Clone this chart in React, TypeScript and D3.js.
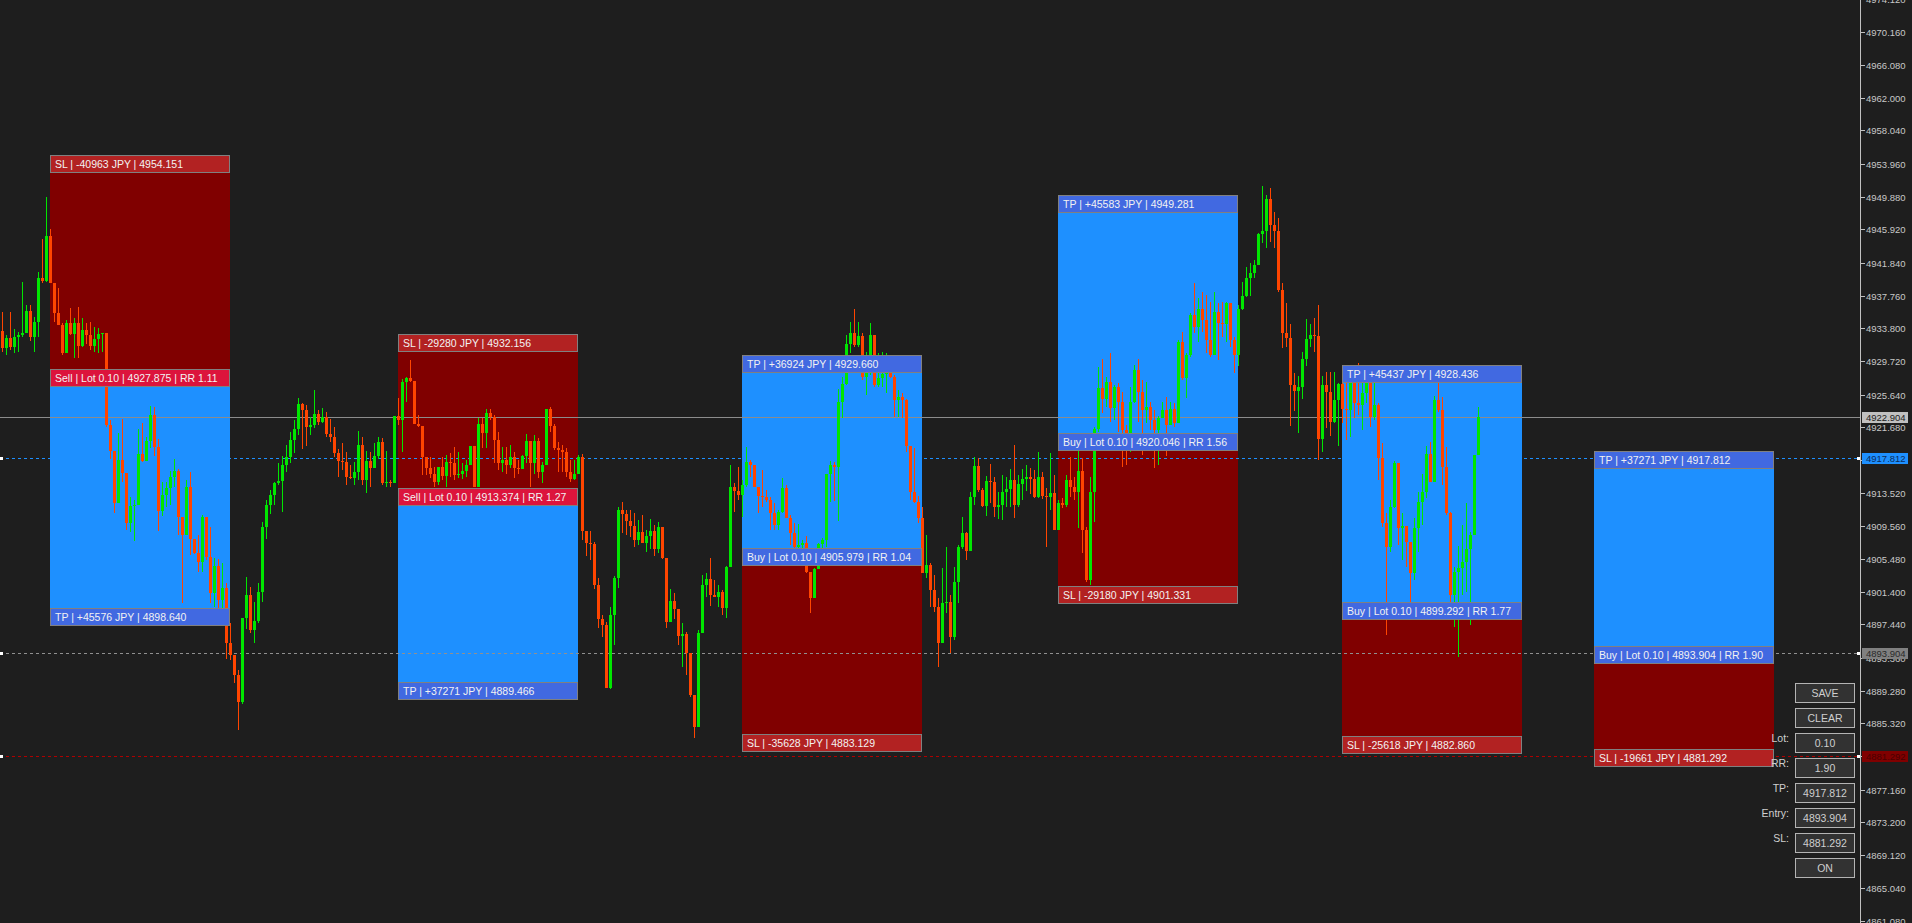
import React, { useEffect, useRef } from "react";
import * as d3 from "d3";

// price range of the right-hand axis
const priceMin = 4861.08;
const priceMax = 4974.05;

const firstOpen = 4933.44;

// one value per bar, open = previous close
const closes = [
  4931.35, 4932.58, 4931.47, 4932.70, 4932.95, 4933.19, 4935.89, 4932.70, 4934.54, 4939.94,
  4939.57, 4945.09, 4939.32, 4935.64, 4934.17, 4930.73, 4934.42, 4933.07, 4934.42, 4931.59,
  4933.56, 4932.95, 4931.59, 4932.45, 4933.07, 4933.19, 4921.91, 4918.71, 4912.33, 4917.61,
  4916.01, 4909.88, 4911.96, 4912.09, 4918.35, 4917.49, 4919.94, 4923.13, 4919.21, 4911.35,
  4913.31, 4914.17, 4915.52, 4916.26, 4910.61, 4908.41, 4914.29, 4907.92, 4906.20, 4905.09,
  4910.61, 4905.71, 4901.29, 4904.60, 4900.43, 4901.90, 4895.15, 4893.68, 4891.23, 4887.91,
  4898.22, 4901.04, 4896.75, 4897.85, 4901.41, 4909.39, 4912.09, 4913.31, 4914.78, 4915.03,
  4917.00, 4917.98, 4920.06, 4921.41, 4924.48, 4923.74, 4921.66, 4921.91, 4923.25, 4922.27,
  4922.89, 4920.80, 4920.43, 4918.47, 4917.49, 4917.36, 4915.52, 4915.40, 4916.13, 4919.45,
  4915.15, 4917.49, 4916.63, 4918.10, 4919.82, 4914.78, 4914.91, 4914.78, 4923.01, 4922.52,
  4927.18, 4927.67, 4927.30, 4922.03, 4921.78, 4917.98, 4916.63, 4915.89, 4914.91, 4916.75,
  4915.64, 4917.36, 4917.24, 4915.77, 4915.89, 4916.26, 4917.00, 4919.33, 4914.29, 4922.03,
  4920.92, 4923.37, 4922.89, 4920.06, 4917.24, 4917.61, 4917.00, 4917.98, 4916.63, 4916.50,
  4918.10, 4919.94, 4917.24, 4919.94, 4916.13, 4917.00, 4923.87, 4921.78, 4919.08, 4918.84,
  4918.59, 4916.13, 4915.28, 4915.89, 4917.98, 4908.90, 4907.42, 4907.30, 4902.27, 4898.10,
  4897.36, 4889.63, 4898.59, 4903.13, 4911.47, 4910.98, 4910.12, 4909.51, 4907.79, 4908.78,
  4907.42, 4908.28, 4908.90, 4906.69, 4909.39, 4905.59, 4897.73, 4900.31, 4899.32, 4896.01,
  4896.26, 4893.93, 4888.77, 4884.85, 4896.38, 4902.27, 4903.01, 4901.04, 4900.80, 4901.41,
  4899.45, 4904.48, 4914.29, 4913.80, 4913.31, 4914.54, 4917.36, 4917.00, 4914.29, 4913.19,
  4913.07, 4912.70, 4911.10, 4909.63, 4911.23, 4914.17, 4910.49, 4908.65, 4906.93, 4907.18,
  4907.42, 4903.86, 4900.68, 4904.23, 4907.30, 4907.79, 4915.89, 4917.00, 4916.75, 4924.72,
  4926.93, 4931.84, 4933.19, 4931.72, 4932.82, 4927.79, 4929.63, 4932.95, 4926.81, 4927.67,
  4928.16, 4928.28, 4927.79, 4924.97, 4925.34, 4924.97, 4919.33, 4913.68, 4912.46, 4910.49,
  4903.74, 4904.72, 4901.66, 4899.57, 4895.15, 4900.06, 4900.18, 4895.89, 4902.64, 4906.93,
  4908.65, 4906.44, 4913.07, 4916.87, 4913.93, 4911.96, 4915.03, 4914.91, 4911.84, 4912.09,
  4913.68, 4914.05, 4915.15, 4912.09, 4914.66, 4915.28, 4915.52, 4915.28, 4913.07, 4915.52,
  4913.19, 4913.07, 4913.56, 4909.02, 4912.33, 4912.09, 4915.15, 4914.29, 4913.68, 4916.26,
  4909.02, 4902.88, 4913.68, 4921.41, 4926.44, 4925.10, 4927.18, 4923.99, 4926.56, 4924.72,
  4921.29, 4920.43, 4924.72, 4928.65, 4925.95, 4923.74, 4924.11, 4922.52, 4921.29, 4922.76,
  4923.74, 4921.91, 4923.87, 4922.15, 4932.09, 4927.67, 4930.49, 4935.40, 4933.93, 4936.14,
  4934.79, 4932.33, 4930.49, 4935.77, 4934.42, 4934.30, 4936.87, 4932.33, 4930.49, 4936.14,
  4937.73, 4939.94, 4940.55, 4941.53, 4945.34, 4945.71, 4949.63, 4946.44, 4945.71, 4938.47,
  4933.19, 4932.58, 4926.81, 4926.07, 4926.56, 4930.00, 4932.45, 4932.95, 4932.82, 4920.19,
  4926.81, 4925.95, 4922.27, 4924.97, 4926.93, 4923.87, 4923.74, 4927.05, 4924.60, 4924.35,
  4925.83, 4927.05, 4922.89, 4924.35, 4917.86, 4909.88, 4906.93, 4911.84, 4917.24, 4909.27,
  4909.51, 4907.55, 4903.74, 4909.27, 4912.46, 4913.68, 4918.35, 4914.91, 4924.97, 4923.74,
  4916.75, 4911.10, 4901.04, 4903.86, 4904.35, 4905.09, 4906.69, 4908.41, 4918.22, 4922.89,
];

const highs = [
  4935.76, 4932.95, 4935.76, 4933.68, 4933.31, 4939.44, 4936.63, 4936.63, 4935.16, 4940.67,
  4944.73, 4949.88, 4945.95, 4939.32, 4938.71, 4934.42, 4934.79, 4936.26, 4935.03, 4936.38,
  4935.03, 4934.42, 4934.54, 4933.93, 4933.81, 4933.19, 4933.19, 4922.52, 4918.71, 4920.93,
  4922.64, 4916.01, 4913.07, 4912.70, 4921.41, 4922.15, 4920.43, 4924.23, 4924.11, 4920.19,
  4914.91, 4914.91, 4916.26, 4917.73, 4916.50, 4910.61, 4915.15, 4916.13, 4907.92, 4908.41,
  4910.86, 4910.61, 4909.39, 4905.59, 4905.46, 4904.97, 4902.52, 4897.61, 4893.68, 4891.84,
  4898.22, 4903.25, 4902.03, 4900.18, 4902.52, 4910.00, 4912.70, 4913.93, 4914.91, 4917.24,
  4918.10, 4919.45, 4921.04, 4922.52, 4925.22, 4924.60, 4924.35, 4922.89, 4926.20, 4923.74,
  4923.99, 4923.50, 4922.64, 4921.66, 4918.96, 4919.69, 4918.59, 4917.00, 4917.36, 4921.17,
  4920.43, 4918.71, 4918.59, 4919.69, 4920.43, 4920.31, 4918.71, 4915.15, 4923.01, 4925.22,
  4927.54, 4927.79, 4929.88, 4927.30, 4923.13, 4921.78, 4917.98, 4917.98, 4916.75, 4916.75,
  4917.98, 4918.22, 4918.47, 4919.21, 4918.59, 4917.24, 4917.61, 4919.33, 4919.33, 4922.76,
  4922.76, 4923.87, 4923.87, 4923.13, 4921.04, 4919.21, 4919.21, 4919.45, 4918.59, 4917.61,
  4918.22, 4920.80, 4919.94, 4920.68, 4920.31, 4917.36, 4923.87, 4924.11, 4922.03, 4919.82,
  4919.45, 4919.08, 4917.61, 4917.61, 4918.22, 4918.35, 4908.90, 4908.90, 4907.55, 4903.13,
  4898.59, 4897.73, 4899.57, 4903.37, 4911.84, 4912.46, 4911.47, 4911.47, 4911.10, 4910.25,
  4910.86, 4909.02, 4910.37, 4909.63, 4910.00, 4909.39, 4905.59, 4901.78, 4901.29, 4899.32,
  4897.61, 4896.50, 4893.93, 4888.77, 4896.75, 4903.50, 4903.74, 4905.59, 4902.88, 4902.27,
  4901.66, 4904.60, 4917.00, 4914.78, 4916.75, 4915.15, 4919.21, 4917.61, 4917.00, 4914.29,
  4916.38, 4913.93, 4913.07, 4912.33, 4911.47, 4915.40, 4914.54, 4910.86, 4909.88, 4909.75,
  4907.79, 4908.28, 4903.86, 4904.35, 4907.42, 4908.04, 4915.89, 4917.49, 4917.36, 4926.32,
  4927.79, 4932.95, 4934.54, 4936.14, 4934.54, 4933.19, 4930.85, 4934.42, 4932.95, 4930.73,
  4930.85, 4930.73, 4930.24, 4928.03, 4926.20, 4925.83, 4925.10, 4919.33, 4919.08, 4913.19,
  4911.84, 4908.41, 4904.97, 4903.50, 4900.68, 4904.35, 4906.93, 4901.04, 4904.48, 4907.18,
  4910.61, 4908.78, 4913.68, 4917.98, 4917.86, 4914.17, 4915.64, 4917.12, 4915.52, 4913.68,
  4915.77, 4915.52, 4916.50, 4919.45, 4915.77, 4916.50, 4917.00, 4916.63, 4916.38, 4918.59,
  4916.13, 4914.17, 4918.47, 4915.77, 4912.70, 4912.95, 4915.77, 4917.98, 4915.52, 4919.08,
  4917.86, 4909.39, 4915.52, 4921.66, 4929.02, 4930.00, 4927.79, 4930.73, 4926.81, 4927.05,
  4925.96, 4921.91, 4926.56, 4929.27, 4930.00, 4927.42, 4927.18, 4924.72, 4923.74, 4923.01,
  4924.72, 4925.34, 4924.72, 4924.60, 4932.33, 4933.31, 4930.73, 4935.64, 4939.32, 4937.49,
  4938.22, 4937.85, 4936.99, 4938.22, 4936.87, 4936.99, 4936.99, 4936.87, 4932.70, 4936.63,
  4939.44, 4941.29, 4941.78, 4942.15, 4945.46, 4951.23, 4950.12, 4950.98, 4948.04, 4947.30,
  4939.32, 4936.87, 4934.30, 4928.28, 4927.91, 4930.85, 4934.91, 4934.30, 4935.03, 4936.63,
  4927.91, 4928.40, 4928.40, 4928.40, 4927.05, 4928.65, 4927.05, 4927.18, 4929.27, 4929.51,
  4927.05, 4928.65, 4928.65, 4927.42, 4924.60, 4919.69, 4911.10, 4912.70, 4917.49, 4917.24,
  4911.10, 4909.51, 4907.55, 4910.49, 4913.68, 4915.89, 4919.33, 4919.82, 4925.46, 4927.05,
  4925.34, 4919.21, 4911.23, 4904.48, 4907.05, 4909.63, 4912.33, 4908.78, 4918.22, 4924.11,
];

const lows = [
  4930.85, 4930.49, 4931.10, 4930.73, 4930.85, 4932.70, 4933.19, 4932.21, 4930.85, 4932.70,
  4939.32, 4939.44, 4939.32, 4934.54, 4934.17, 4930.49, 4930.73, 4932.95, 4930.12, 4930.12,
  4931.47, 4931.84, 4931.10, 4930.85, 4930.73, 4930.85, 4921.66, 4917.73, 4911.10, 4912.33,
  4914.91, 4909.02, 4908.78, 4907.67, 4912.09, 4917.36, 4917.49, 4919.08, 4918.10, 4908.90,
  4910.74, 4911.84, 4912.09, 4914.29, 4908.41, 4900.06, 4908.41, 4905.95, 4906.07, 4903.86,
  4903.86, 4905.34, 4900.06, 4899.57, 4899.45, 4899.45, 4893.19, 4893.07, 4890.24, 4884.48,
  4887.67, 4896.87, 4896.38, 4895.15, 4897.61, 4900.18, 4907.92, 4911.00, 4912.09, 4914.54,
  4911.23, 4916.13, 4917.24, 4918.47, 4920.68, 4918.96, 4919.33, 4920.68, 4921.54, 4921.91,
  4922.15, 4920.43, 4919.82, 4917.98, 4915.52, 4916.38, 4914.54, 4915.28, 4914.54, 4915.15,
  4914.54, 4913.56, 4914.29, 4916.63, 4917.73, 4914.54, 4914.29, 4914.29, 4914.78, 4921.91,
  4918.59, 4924.72, 4927.18, 4922.03, 4921.66, 4915.77, 4915.77, 4915.40, 4914.29, 4914.54,
  4915.15, 4914.29, 4915.52, 4915.15, 4915.40, 4915.28, 4915.52, 4917.00, 4914.29, 4914.29,
  4919.08, 4919.08, 4922.52, 4917.24, 4916.38, 4916.13, 4915.89, 4916.63, 4915.40, 4915.89,
  4916.63, 4917.24, 4914.29, 4915.89, 4915.40, 4914.78, 4917.00, 4921.04, 4918.84, 4916.13,
  4916.13, 4915.52, 4914.91, 4915.15, 4915.89, 4907.79, 4905.83, 4905.34, 4901.78, 4897.00,
  4895.89, 4889.63, 4889.51, 4894.91, 4901.90, 4908.65, 4908.41, 4908.16, 4906.93, 4907.18,
  4907.42, 4906.32, 4906.69, 4905.83, 4906.20, 4905.46, 4897.00, 4897.73, 4898.10, 4894.91,
  4892.21, 4891.23, 4888.53, 4883.50, 4884.85, 4896.38, 4900.80, 4899.69, 4900.80, 4899.57,
  4898.59, 4898.22, 4904.48, 4911.23, 4912.70, 4910.61, 4914.29, 4915.52, 4914.29, 4911.10,
  4911.84, 4912.46, 4909.02, 4909.02, 4909.02, 4911.10, 4910.49, 4907.18, 4906.81, 4906.81,
  4906.20, 4903.74, 4898.84, 4900.68, 4904.23, 4906.81, 4906.93, 4912.46, 4912.58, 4910.12,
  4922.76, 4926.81, 4930.73, 4931.47, 4931.47, 4927.42, 4925.59, 4928.03, 4926.56, 4926.56,
  4926.56, 4925.83, 4927.67, 4922.89, 4922.89, 4922.76, 4918.59, 4912.70, 4912.33, 4909.88,
  4903.74, 4903.13, 4899.57, 4898.96, 4892.21, 4895.15, 4898.84, 4893.93, 4895.52, 4900.06,
  4906.69, 4905.34, 4906.57, 4912.09, 4913.68, 4911.84, 4910.74, 4912.33, 4910.61, 4910.37,
  4910.25, 4911.84, 4911.84, 4910.49, 4911.84, 4912.70, 4913.80, 4913.44, 4912.95, 4912.95,
  4912.82, 4906.93, 4911.47, 4909.02, 4909.02, 4911.72, 4911.84, 4913.07, 4912.70, 4909.27,
  4906.20, 4902.64, 4902.27, 4910.00, 4921.04, 4923.37, 4924.11, 4922.27, 4922.52, 4921.04,
  4916.75, 4917.00, 4918.59, 4924.60, 4922.27, 4918.22, 4922.15, 4921.29, 4916.63, 4917.00,
  4922.89, 4918.10, 4921.91, 4921.66, 4922.15, 4927.42, 4925.22, 4930.24, 4933.19, 4932.09,
  4933.31, 4930.73, 4930.24, 4930.49, 4929.88, 4932.70, 4932.09, 4931.47, 4928.28, 4929.14,
  4936.01, 4937.61, 4937.73, 4939.94, 4941.53, 4944.23, 4943.62, 4944.35, 4943.62, 4938.22,
  4931.35, 4931.47, 4921.78, 4923.62, 4920.92, 4925.10, 4929.14, 4931.47, 4930.85, 4917.61,
  4918.59, 4921.54, 4920.55, 4922.15, 4919.33, 4922.15, 4920.06, 4920.43, 4922.76, 4923.13,
  4921.29, 4924.60, 4921.66, 4922.52, 4915.15, 4909.39, 4896.13, 4906.32, 4911.72, 4907.18,
  4905.34, 4904.48, 4900.06, 4902.88, 4906.32, 4909.63, 4912.95, 4914.91, 4917.36, 4923.50,
  4914.54, 4910.86, 4899.82, 4897.12, 4893.44, 4901.04, 4901.41, 4897.36, 4908.41, 4918.22,
];

const axisTicks = [
  4974.12, 4970.16, 4966.08, 4962.0, 4958.04, 4953.96, 4949.88, 4945.92, 4941.84, 4937.76,
  4933.8, 4929.72, 4925.64, 4921.68, 4917.6, 4913.52, 4909.56, 4905.48, 4901.4, 4897.44,
  4893.36, 4889.28, 4885.32, 4881.24, 4877.16, 4873.2, 4869.12, 4865.04, 4861.08,
];

// trade boxes: first bar index, direction and the three levels
const boxStarts = [12, 99, 185, 264, 335, 398];
const boxSides = ["Sell", "Sell", "Buy", "Buy", "Buy", "Buy"];
const boxEntry = [4927.875, 4913.374, 4905.979, 4920.046, 4899.292, 4893.904];
const boxTP = [4898.64, 4889.466, 4929.66, 4949.281, 4928.436, 4917.812];
const boxSL = [4954.151, 4932.156, 4883.129, 4901.331, 4882.86, 4881.292];
const boxRR = ["1.11", "1.27", "1.04", "1.56", "1.77", "1.90"];
const boxProfit = ["+45576", "+37271", "+36924", "+45583", "+45437", "+37271"];
const boxLoss = ["-40963", "-29280", "-35628", "-29180", "-25618", "-19661"];

const currentPrice = 4922.904;

const panelButtons = ["SAVE", "CLEAR", "0.10", "1.90", "4917.812", "4893.904", "4881.292", "ON"];
const panelLabels = ["", "", "Lot:", "RR:", "TP:", "Entry:", "SL:", ""];

const W = 1912;
const H = 923;
const AXIS_X = 1860;
const BOX_BARS = 45;
const FONT = "'Liberation Sans', Arial, sans-serif";

const TradeChart = () => {
  const chartRef = useRef<SVGSVGElement>(null);

  useEffect(() => {
    const svg = d3.select(chartRef.current);
    svg.selectAll("*").remove();

    const yScale = d3.scaleLinear().domain([priceMin, priceMax]).range([920.7, 0]);
    const xScale = d3.scaleLinear().domain([0, 100]).range([2, 402]);
    const py = (p: number) => Math.round(yScale(p));

    const candles = closes.map((c, i) => {
      const o = i === 0 ? firstOpen : closes[i - 1];
      return { i, o, c, h: Math.max(highs[i], o, c), l: Math.min(lows[i], o, c) };
    });

    svg.append("rect").attr("width", W).attr("height", H).attr("fill", "#1e1e1e");

    // box fills
    const boxes = boxStarts.map((s, k) => ({
      s,
      side: boxSides[k],
      entry: boxEntry[k],
      tp: boxTP[k],
      sl: boxSL[k],
      x0: xScale(s),
      x1: xScale(s + BOX_BARS),
    }));
    const gFill = svg.append("g").attr("shape-rendering", "crispEdges");
    boxes.forEach((b) => {
      gFill
        .append("rect")
        .attr("x", b.x0)
        .attr("width", b.x1 - b.x0)
        .attr("y", Math.min(py(b.tp), py(b.entry)))
        .attr("height", Math.abs(py(b.tp) - py(b.entry)))
        .attr("fill", "#1e90ff");
      gFill
        .append("rect")
        .attr("x", b.x0)
        .attr("width", b.x1 - b.x0)
        .attr("y", Math.min(py(b.sl), py(b.entry)))
        .attr("height", Math.abs(py(b.sl) - py(b.entry)))
        .attr("fill", "#800000");
    });

    // price lines
    const gLines = svg.append("g").attr("shape-rendering", "crispEdges");
    gLines
      .append("line")
      .attr("x1", 0)
      .attr("x2", AXIS_X)
      .attr("y1", py(currentPrice) + 0.5)
      .attr("y2", py(currentPrice) + 0.5)
      .attr("stroke", "#8c8c8c");

    const last = boxes[boxes.length - 1];
    const levels = [
      { p: last.tp, color: "#1e90ff" },
      { p: last.entry, color: "#909090" },
      { p: last.sl, color: "#b00000" },
    ];
    levels.forEach((lv) => {
      const yy = py(lv.p) + 0.5;
      gLines
        .append("line")
        .attr("x1", 0)
        .attr("x2", AXIS_X)
        .attr("y1", yy)
        .attr("y2", yy)
        .attr("stroke", lv.color)
        .attr("stroke-dasharray", "3,3");
    });

    // candles
    const gCandles = svg.append("g").attr("shape-rendering", "crispEdges");
    gCandles
      .selectAll(".wick")
      .data(candles)
      .enter()
      .append("rect")
      .attr("x", (d) => xScale(d.i))
      .attr("width", 1)
      .attr("y", (d) => py(d.h))
      .attr("height", (d) => Math.max(1, py(d.l) - py(d.h)))
      .attr("fill", (d) => (d.c >= d.o ? "#00e600" : "#ff4500"));
    gCandles
      .selectAll(".body")
      .data(candles)
      .enter()
      .append("rect")
      .attr("x", (d) => xScale(d.i) - 1)
      .attr("width", 3)
      .attr("y", (d) => py(Math.max(d.o, d.c)))
      .attr("height", (d) => Math.max(1, py(Math.min(d.o, d.c)) - py(Math.max(d.o, d.c))))
      .attr("fill", (d) => (d.c >= d.o ? "#00e600" : "#ff4500"));

    // end markers of the dashed levels
    levels.forEach((lv) => {
      [0, AXIS_X - 3].forEach((mx) => {
        svg
          .append("rect")
          .attr("x", mx)
          .attr("y", py(lv.p) - 1)
          .attr("width", 3)
          .attr("height", 3)
          .attr("fill", "#ffffff");
      });
    });

    // box labels
    const gLabels = svg.append("g");
    boxes.forEach((b, k) => {
      const items = [
        { p: b.tp, fill: "#4169e1", text: `TP | ${boxProfit[k]} JPY | ${b.tp.toFixed(3)}` },
        {
          p: b.entry,
          fill: b.side === "Sell" ? "#dc143c" : "#4169e1",
          text: `${b.side} | Lot 0.10 | ${b.entry.toFixed(3)} | RR ${boxRR[k]}`,
        },
        { p: b.sl, fill: "#b22222", text: `SL | ${boxLoss[k]} JPY | ${b.sl.toFixed(3)}` },
      ];
      items.forEach((it) => {
        const top = py(it.p) - 7;
        gLabels
          .append("rect")
          .attr("x", b.x0 + 0.5)
          .attr("y", top + 0.5)
          .attr("width", b.x1 - b.x0 - 1)
          .attr("height", 17)
          .attr("fill", it.fill)
          .attr("stroke", "#808080")
          .attr("shape-rendering", "crispEdges");
        gLabels
          .append("text")
          .attr("x", b.x0 + 5)
          .attr("y", py(it.p) + 6)
          .text(it.text)
          .style("font-family", FONT)
          .style("font-size", "10.5px")
          .style("fill", "#f2f2f2");
      });
    });

    // price axis
    const gAxis = svg.append("g");
    gAxis
      .append("line")
      .attr("x1", AXIS_X + 0.5)
      .attr("x2", AXIS_X + 0.5)
      .attr("y1", 0)
      .attr("y2", H)
      .attr("stroke", "#c0c0c0")
      .attr("shape-rendering", "crispEdges");
    axisTicks.forEach((t) => {
      gAxis
        .append("line")
        .attr("x1", AXIS_X + 1)
        .attr("x2", AXIS_X + 5)
        .attr("y1", py(t) + 0.5)
        .attr("y2", py(t) + 0.5)
        .attr("stroke", "#c0c0c0")
        .attr("shape-rendering", "crispEdges");
      gAxis
        .append("text")
        .attr("x", AXIS_X + 6)
        .attr("y", py(t) + 4)
        .text(t.toFixed(3))
        .style("font-family", FONT)
        .style("font-size", "9.5px")
        .style("fill", "#c8c8c8");
    });

    const markers = [
      { p: currentPrice, bg: "#c0c0c0", fg: "#202020" },
      { p: last.tp, bg: "#1e90ff", fg: "#0c2c5a" },
      { p: last.entry, bg: "#808080", fg: "#2a2a2a" },
      { p: last.sl, bg: "#800000", fg: "#4a0000" },
    ];
    markers.forEach((m) => {
      gAxis
        .append("rect")
        .attr("x", AXIS_X + 2)
        .attr("y", py(m.p) - 5)
        .attr("width", 46)
        .attr("height", 11)
        .attr("fill", m.bg)
        .attr("shape-rendering", "crispEdges");
      gAxis
        .append("text")
        .attr("x", AXIS_X + 6)
        .attr("y", py(m.p) + 4)
        .text(m.p.toFixed(3))
        .style("font-family", FONT)
        .style("font-size", "9.5px")
        .style("fill", m.fg);
    });

    // control panel
    const gPanel = svg.append("g");
    panelButtons.forEach((label, k) => {
      const top = 683 + k * 25;
      gPanel
        .append("rect")
        .attr("x", 1795.5)
        .attr("y", top + 0.5)
        .attr("width", 59)
        .attr("height", 19)
        .attr("fill", "#323232")
        .attr("stroke", "#b4b4b4")
        .attr("shape-rendering", "crispEdges");
      gPanel
        .append("text")
        .attr("x", 1825)
        .attr("y", top + 14)
        .attr("text-anchor", "middle")
        .text(label)
        .style("font-family", FONT)
        .style("font-size", "10.5px")
        .style("fill", "#cfcfcf");
      if (panelLabels[k]) {
        gPanel
          .append("text")
          .attr("x", 1789)
          .attr("y", top + 9)
          .attr("text-anchor", "end")
          .text(panelLabels[k])
          .style("font-family", FONT)
          .style("font-size", "10.5px")
          .style("fill", "#cfcfcf");
      }
    });
  }, []);

  return (
    <svg
      ref={chartRef}
      width={W}
      height={H}
      style={{ position: "absolute", left: 0, top: 0, display: "block" }}
    ></svg>
  );
};

export default function App() {
  return <TradeChart />;
}
